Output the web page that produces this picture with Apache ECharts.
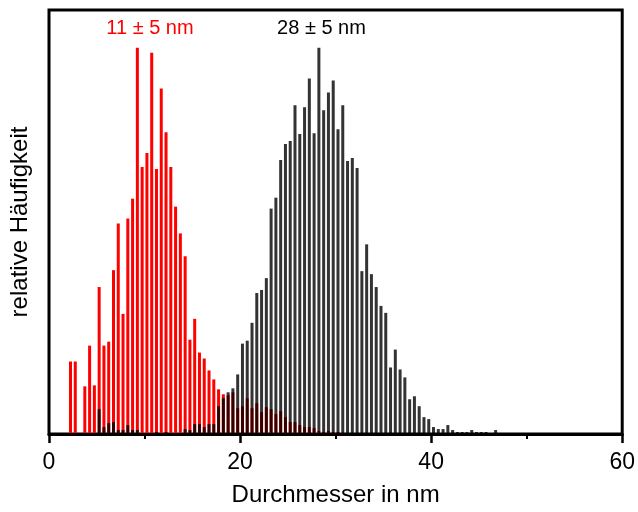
<!DOCTYPE html>
<html>
<head>
<meta charset="utf-8">
<title>Durchmesser</title>
<script src="https://cdn.jsdelivr.net/npm/echarts@6.0.0/dist/echarts.min.js"></script>
<style>
  html, body { margin: 0; padding: 0; background: #fff; }
  #chart { width: 638px; height: 512px; }
</style>
</head>
<body>
<div id="chart"></div>
<script>
// histogram bins: 0.5 nm wide, starting at 0 nm
const binStart = 0
const binWidth = 0.5

// counts per bin (relative units)
const redCounts = [
  0, 0, 0, 1, 73, 73, 1, 48, 89, 49,
  148, 89, 93, 165, 212, 121, 217, 237, 389, 269,
  283, 384, 267, 348, 304, 269, 229, 202, 179, 95,
  116, 82, 76, 64, 55, 45, 40, 39, 42, 26,
  28, 36, 26, 31, 22, 27, 25, 20, 23, 17,
  12, 12, 9, 7, 7, 6, 3, 2, 3, 2,
  2, 1, 1, 1
]
const blackCounts = [
  0, 0, 0, 0, 0, 0, 0, 0, 0, 0,
  25, 7, 11, 12, 4, 4, 9, 4, 4, 1,
  1, 1, 2, 1, 2, 1, 1, 1, 5, 4,
  10, 10, 7, 10, 10, 28, 36, 42, 46, 60,
  91, 94, 112, 142, 145, 157, 227, 238, 276, 292,
  295, 331, 302, 329, 358, 303, 389, 326, 344, 356,
  307, 331, 275, 278, 268, 164, 191, 161, 148, 129,
  122, 67, 85, 65, 57, 35, 38, 28, 17, 15,
  7, 5, 5, 9, 4, 2, 2, 2, 4, 2,
  2, 2, 0, 4, 1, 1, 0, 0, 0, 1,
  0, 0, 0, 1
]

const labels = ['11 ± 5 nm', '28 ± 5 nm']
const xTicks = [0, 20, 40, 60]

function toPairs(counts) {
  let out = []
  for (let i = 0; i < counts.length; i++) {
    out.push([binStart + binWidth * (i + 0.5), counts[i]])
  }
  return out
}

const font = 'Liberation Sans, Arial, sans-serif'
const chart = echarts.init(document.getElementById('chart'))

chart.setOption({
  animation: false,
  grid: {
    left: 49,
    right: 12.5,
    top: 10,
    bottom: 75,
    show: true,
    borderColor: '#000',
    borderWidth: 3
  },
  xAxis: {
    type: 'value',
    min: xTicks[0],
    max: xTicks[xTicks.length - 1],
    interval: xTicks[1] - xTicks[0],
    z: 10,
    name: 'Durchmesser in nm',
    nameLocation: 'middle',
    nameGap: 49,
    nameTextStyle: { fontSize: 24, color: '#000', fontFamily: font },
    axisLine: { lineStyle: { color: '#000', width: 3 } },
    axisTick: { length: 9, lineStyle: { color: '#000', width: 2.5 } },
    minorTick: { show: true, splitNumber: 2, length: 5, lineStyle: { color: '#000', width: 2 } },
    axisLabel: { fontSize: 23, color: '#000', fontFamily: font, margin: 17 },
    splitLine: { show: false }
  },
  yAxis: {
    type: 'value',
    min: 0,
    max: 427,
    name: 'relative Häufigkeit',
    nameLocation: 'middle',
    nameGap: 17,
    nameTextStyle: { fontSize: 24, color: '#000', fontFamily: font },
    axisLine: { show: false },
    axisTick: { show: false },
    axisLabel: { show: false },
    splitLine: { show: false }
  },
  series: [
    {
      name: labels[0],
      type: 'bar',
      barWidth: 3,
      barGap: '-100%',
      itemStyle: { color: '#ff0000' },
      data: toPairs(redCounts)
    },
    {
      name: labels[1],
      type: 'bar',
      barWidth: 3,
      barGap: '-100%',
      itemStyle: { color: 'rgba(0,0,0,0.8)' },
      data: toPairs(blackCounts)
    }
  ],
  graphic: [
    {
      type: 'text',
      x: 150,
      y: 28.5,
      style: {
        text: labels[0],
        fill: '#ff0000',
        font: '20px ' + font,
        textAlign: 'center',
        textVerticalAlign: 'middle'
      }
    },
    {
      type: 'text',
      x: 321.5,
      y: 28.5,
      style: {
        text: labels[1],
        fill: '#000',
        font: '20px ' + font,
        textAlign: 'center',
        textVerticalAlign: 'middle'
      }
    }
  ]
})
</script>
</body>
</html>
